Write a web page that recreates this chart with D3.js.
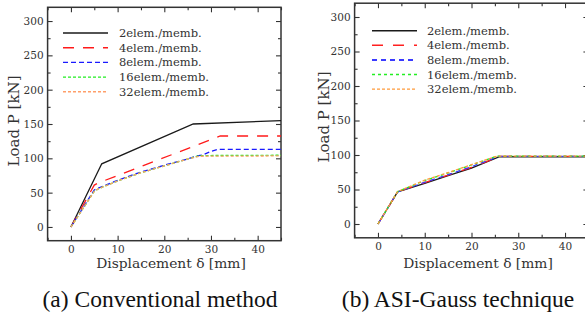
<!DOCTYPE html>
<html><head><meta charset="utf-8">
<script src="https://cdn.jsdelivr.net/npm/d3@7"></script>
<style>
html,body{margin:0;padding:0;background:#fff;overflow:hidden}
svg{display:block}
</style></head>
<body>
<svg id="chart" width="585" height="320"></svg>
<script>
// ---- data ----
const seriesNames = ["2elem./memb.", "4elem./memb.", "8elem./memb.", "16elem./memb.", "32elem./memb."];
const xTicks = [0, 10, 20, 30, 40];
const yTicks = [0, 50, 100, 150, 200, 250, 300];
const captions = ["(a) Conventional method", "(b) ASI-Gauss technique"];

// (a) Conventional method: [displacement mm, load kN]
const conv2  = [[0,0],[6.6,92],[26.2,150],[45,155]];
const conv4  = [[0,0],[4.5,55],[5,61],[5.8,64],[32,132.5],[45,132.5]];
const conv8  = [[0,0],[5,54],[6,57],[10,68],[15,80],[20,90],[25,99],[27,103.5],[28.3,105],[30,110],[31.5,113],[45,113]];
const conv16 = [[0,0],[5,52],[6,56],[10,67],[15,79],[20,89],[25,99],[27.5,104],[45,104.5]];
const conv32 = [[0,0],[5,52],[6,56],[10,67],[15,79],[20,89],[25,99],[27.5,103],[45,103.5]];

// (b) ASI-Gauss technique
const asi2  = [[0,0],[4.2,46.5],[10,59],[15,70],[20,81],[26,97.5],[45,97.5]];
const asi4  = [[0,0],[4.2,46.5],[10,60],[15,71],[20,82],[26,98],[45,98]];
const asi8  = [[0,0],[4.2,46.5],[10,60.5],[15,71.5],[20,83],[25.8,98],[45,98]];
const asi16 = [[0,0],[4.2,47],[10,63],[15,74],[20,85.5],[25.5,98.5],[45,98.5]];
const asi32 = [[0,0],[4.2,47],[10,63.5],[15,74.5],[20,86],[25.5,98.5],[45,98.5]];

const xDomain = [-5, 45];
const yDomain = [-20, 320];

// ---- styles ----
const panels = [
  {
    data: [conv2, conv4, conv8, conv16, conv32],
    xr: [47.6, 281], yr: [240.7, 7.3],
    colors: ["#1a1a1a", "#ff1a1a", "#1a1aff", "#22ee22", "#ff9f6a"],
    dashes: [null, "11,9", "5,3", "3,2", "3,2"],
    legendWidths: [1.4, 1.4, 1.4, 1.4, 1.4],
    legend: {x1: 63, x2: 108, tx: 119, y0: 33, dy: 14.7},
    ylabel: {x: 14, y: 121},
    xlabel: {x: 171, y: 268},
    caption: {x: 160, y: 307}
  },
  {
    data: [asi2, asi4, asi8, asi16, asi32],
    xr: [354.6, 588.4], yr: [237.8, 3.2],
    colors: ["#1a1a1a", "#ff2020", "#3a3aff", "#22ee22", "#ff9a3a"],
    dashes: [null, "11,10", "5,4", "3,3", "3,2"],
    legendWidths: [1.4, 1.4, 2, 1.4, 1.4],
    legend: {x1: 372, x2: 417, tx: 427, y0: 30.7, dy: 14.6},
    ylabel: {x: 324, y: 117},
    xlabel: {x: 478, y: 268},
    caption: {x: 458, y: 307}
  }
];

const svg = d3.select("#chart");
const chartFont = "'DejaVu Serif', serif";

panels.forEach((p, pi) => {
  const x = d3.scaleLinear().domain(xDomain).range(p.xr);
  const y = d3.scaleLinear().domain(yDomain).range(p.yr);
  const g = svg.append("g");

  const clipId = "clip" + pi;
  g.append("clipPath").attr("id", clipId).append("rect")
    .attr("x", p.xr[0]).attr("y", p.yr[1])
    .attr("width", p.xr[1] - p.xr[0]).attr("height", p.yr[0] - p.yr[1]);

  // minor ticks
  const xMinor = d3.range(-5, 46, 5).filter(v => v % 10 !== 0);
  const yMinor = d3.range(-25, 321, 25).filter(v => v % 50 !== 0 && v > yDomain[0] && v < yDomain[1]);

  function styleAxis(a) {
    a.select(".domain").remove();
    a.selectAll(".tick line").attr("stroke", "#333").attr("stroke-width", 1.1);
    a.selectAll(".tick text").attr("fill", "#333").style("font-family", chartFont).style("font-size", "10.5px");
  }

  // bottom
  g.append("g").attr("transform", `translate(0,${p.yr[0]})`)
    .call(d3.axisBottom(x).tickValues(xTicks).tickSizeInner(-5).tickSizeOuter(0).tickPadding(5).tickFormat(d3.format("d")))
    .call(styleAxis);
  g.append("g").attr("transform", `translate(0,${p.yr[0]})`)
    .call(d3.axisBottom(x).tickValues(xMinor).tickSizeInner(-3).tickSizeOuter(0).tickFormat(""))
    .call(styleAxis);
  // top
  g.append("g").attr("transform", `translate(0,${p.yr[1]})`)
    .call(d3.axisTop(x).tickValues(xTicks).tickSizeInner(-5).tickSizeOuter(0).tickFormat(""))
    .call(styleAxis);
  g.append("g").attr("transform", `translate(0,${p.yr[1]})`)
    .call(d3.axisTop(x).tickValues(xMinor).tickSizeInner(-3).tickSizeOuter(0).tickFormat(""))
    .call(styleAxis);
  // left
  g.append("g").attr("transform", `translate(${p.xr[0]},0)`)
    .call(d3.axisLeft(y).tickValues(yTicks).tickSizeInner(-5).tickSizeOuter(0).tickPadding(4).tickFormat(d3.format("d")))
    .call(styleAxis);
  g.append("g").attr("transform", `translate(${p.xr[0]},0)`)
    .call(d3.axisLeft(y).tickValues(yMinor).tickSizeInner(-3).tickSizeOuter(0).tickFormat(""))
    .call(styleAxis);
  // right
  g.append("g").attr("transform", `translate(${p.xr[1]},0)`)
    .call(d3.axisRight(y).tickValues(yTicks).tickSizeInner(-5).tickSizeOuter(0).tickFormat(""))
    .call(styleAxis);
  g.append("g").attr("transform", `translate(${p.xr[1]},0)`)
    .call(d3.axisRight(y).tickValues(yMinor).tickSizeInner(-3).tickSizeOuter(0).tickFormat(""))
    .call(styleAxis);

  // frame
  g.append("rect")
    .attr("x", p.xr[0]).attr("y", p.yr[1])
    .attr("width", p.xr[1] - p.xr[0]).attr("height", p.yr[0] - p.yr[1])
    .attr("fill", "none").attr("stroke", "#333").attr("stroke-width", 1.5);

  // curves
  const line = d3.line().x(d => x(d[0])).y(d => y(d[1]));
  const lines = g.append("g").attr("clip-path", `url(#${clipId})`);
  p.data.forEach((s, i) => {
    lines.append("path").datum(s)
      .attr("d", line)
      .attr("fill", "none")
      .attr("stroke", p.colors[i])
      .attr("stroke-width", 1.3)
      .attr("stroke-dasharray", p.dashes[i]);
  });

  // legend
  const lg = g.append("g");
  seriesNames.forEach((name, i) => {
    const yy = p.legend.y0 + i * p.legend.dy;
    lg.append("line")
      .attr("x1", p.legend.x1).attr("x2", p.legend.x2)
      .attr("y1", yy).attr("y2", yy)
      .attr("stroke", p.colors[i])
      .attr("stroke-width", p.legendWidths[i])
      .attr("stroke-dasharray", p.dashes[i]);
    lg.append("text")
      .attr("x", p.legend.tx).attr("y", yy)
      .attr("dy", "0.35em")
      .attr("fill", "#333")
      .style("font-family", chartFont).style("font-size", "11.5px")
      .text(name);
  });

  // axis labels
  g.append("text")
    .attr("transform", `translate(${p.ylabel.x},${p.ylabel.y}) rotate(-90)`)
    .attr("text-anchor", "middle").attr("dy", "0.35em")
    .attr("fill", "#333")
    .style("font-family", chartFont).style("font-size", "15px")
    .text("Load P [kN]");
  g.append("text")
    .attr("x", p.xlabel.x).attr("y", p.xlabel.y)
    .attr("text-anchor", "middle")
    .attr("fill", "#333")
    .style("font-family", chartFont).style("font-size", "13.8px")
    .text("Displacement δ [mm]");

  // caption
  g.append("text")
    .attr("x", p.caption.x).attr("y", p.caption.y)
    .attr("text-anchor", "middle")
    .attr("fill", "#111")
    .style("font-family", "'Liberation Serif', 'Times New Roman', serif")
    .style("font-size", "23.5px")
    .text(captions[pi]);
});
</script>
</body></html>
